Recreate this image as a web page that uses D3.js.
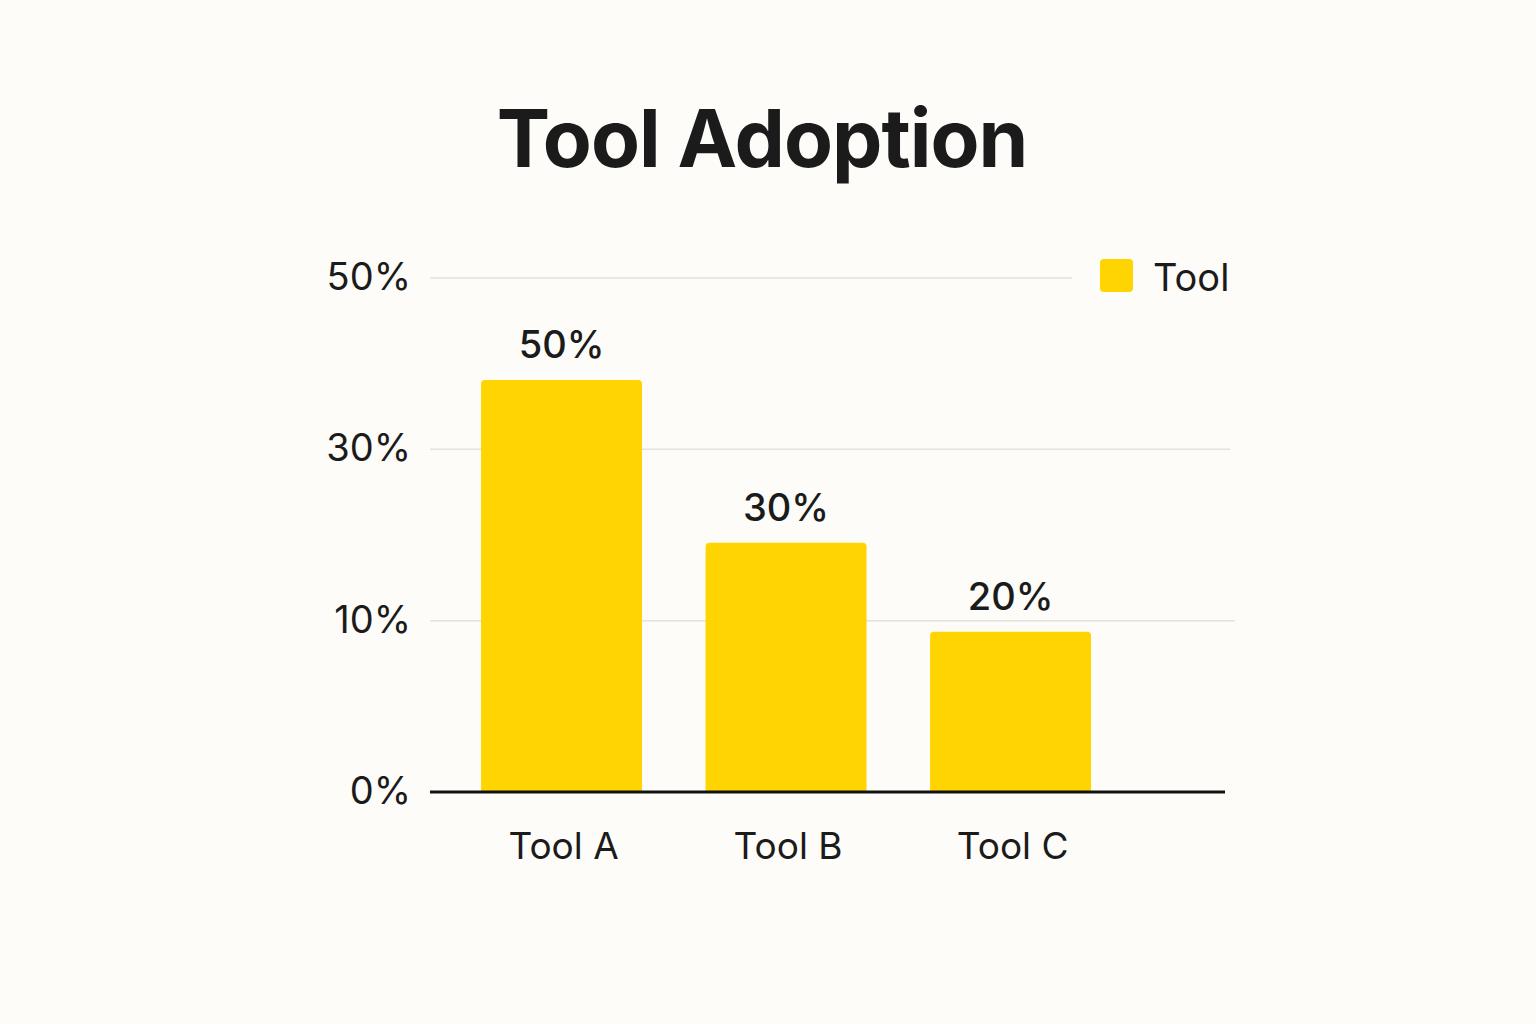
<!DOCTYPE html>
<html>
<head>
<meta charset="utf-8">
<script src="https://cdn.jsdelivr.net/npm/d3@7"></script>
<style>
  html, body { margin: 0; padding: 0; background: #fdfcf8; }
  svg { display: block; font-family: Inter, "Noto Sans", sans-serif; }
</style>
</head>
<body>
<div id="chart"></div>
<script>
  // values
  const categories = ["Tool A", "Tool B", "Tool C"];
  const bar_values = [48.1, 29.1, 18.7];          // bar heights in grid units
  const value_labels = ["50%", "30%", "20%"];      // what is printed above each bar
  const tick_values = [0, 20, 40, 60];
  const tick_labels = ["0%", "10%", "30%", "50%"];
  const series_name = "Tool";

  const width = 1536;
  const height = 1024;
  const margin = ({top: 278, right: 311, bottom: 232, left: 430});
  const bar_color = "#ffd400";
  const text_color = "#1b1b1b";

  let svg = d3.select("#chart").append("svg")
    .attr("width", width)
    .attr("height", height);

  svg.append("rect")
    .attr("width", width)
    .attr("height", height)
    .attr("fill", "#fdfcf8");

  svg.append("text")
    .attr("x", 762)
    .attr("y", 167)
    .attr("text-anchor", "middle")
    .style("font-size", "80px")
    .style("font-weight", 700)
    .style("letter-spacing", "-1px")
    .attr("fill", text_color)
    .text("Tool Adoption");

  let x = d3.scaleBand()
    .domain(categories)
    .range([margin.left, width - margin.right])
    .paddingInner(0.283)
    .paddingOuter(0.412)
    .align(0.276);

  let y = d3.scaleLinear()
    .domain([0, 60])
    .range([height - margin.bottom, margin.top]);

  // grid lines, the top one stops short of the legend
  const grid_end = [1226, 1235, 1230, 1072];
  svg.append("g")
    .selectAll("line")
    .data(tick_values.slice(1))
    .enter()
    .append("line")
    .attr("x1", margin.left)
    .attr("x2", (d, i) => grid_end[i + 1])
    .attr("y1", d => y(d))
    .attr("y2", d => y(d))
    .attr("stroke", "#e3e2de")
    .attr("stroke-width", 1.5);

  let y_axis = d3.axisLeft(y)
    .tickValues(tick_values)
    .tickFormat((d, i) => tick_labels[i])
    .tickSize(0)
    .tickPadding(19);

  svg.append("g")
    .attr("transform", `translate(${margin.left}, 0)`)
    .call(y_axis)
    .call(g => g.select(".domain").remove())
    .call(g => g.selectAll("text")
      .attr("dy", "0.3em")
      .style("font-family", "Inter, 'Noto Sans', sans-serif")
      .style("font-size", "38px")
      .attr("fill", text_color));

  const data = categories.map((c, i) => ({name: c, value: bar_values[i], label: value_labels[i]}));

  svg.append("g")
    .selectAll("path")
    .data(data)
    .enter()
    .append("path")
    .attr("fill", bar_color)
    .attr("d", d => {
      const x0 = x(d.name), x1 = x0 + x.bandwidth();
      const y0 = y(0), y1 = y(d.value), r = 4;
      return `M${x0},${y0}V${y1 + r}Q${x0},${y1} ${x0 + r},${y1}H${x1 - r}Q${x1},${y1} ${x1},${y1 + r}V${y0}Z`;
    });

  svg.append("g")
    .selectAll("text")
    .data(data)
    .enter()
    .append("text")
    .attr("x", d => x(d.name) + x.bandwidth() / 2)
    .attr("y", d => y(d.value) - 22)
    .attr("text-anchor", "middle")
    .style("font-size", "38px")
    .style("font-weight", 500)
    .attr("fill", text_color)
    .text(d => d.label);

  // baseline
  svg.append("line")
    .attr("x1", margin.left)
    .attr("x2", width - margin.right)
    .attr("y1", y(0))
    .attr("y2", y(0))
    .attr("stroke", "#111")
    .attr("stroke-width", 3);

  let x_axis = d3.axisBottom(x)
    .tickSize(0)
    .tickPadding(0);

  svg.append("g")
    .attr("transform", `translate(0, ${y(0)})`)
    .call(x_axis)
    .call(g => g.select(".domain").remove())
    .call(g => g.selectAll("text")
      .attr("dy", null)
      .attr("x", 2)
      .attr("y", 67)
      .style("font-family", "Inter, 'Noto Sans', sans-serif")
      .style("font-size", "37px")
      .attr("fill", text_color));

  // legend
  let legend = svg.append("g")
    .attr("transform", "translate(1100, 259)");
  legend.append("rect")
    .attr("width", 33)
    .attr("height", 33)
    .attr("rx", 4)
    .attr("fill", bar_color);
  legend.append("text")
    .attr("x", 53)
    .attr("y", 32)
    .style("font-size", "38px")
    .attr("fill", text_color)
    .text(series_name);
</script>
</body>
</html>
